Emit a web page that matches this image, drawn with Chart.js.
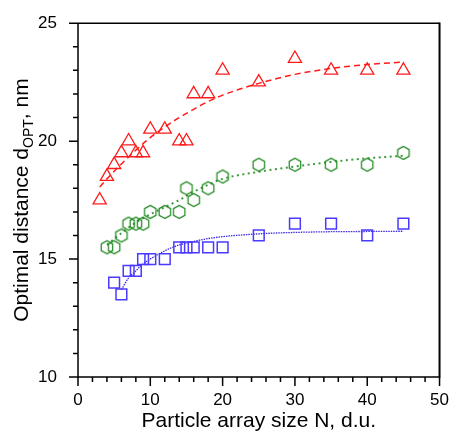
<!DOCTYPE html>
<html><head><meta charset="utf-8">
<script src="https://cdn.jsdelivr.net/npm/chart.js@4.4.0/dist/chart.umd.min.js"></script>
<style>html,body{margin:0;padding:0;background:#fff;overflow:hidden}#wrap{width:454px;height:433px}</style>
</head><body><div id="wrap"><canvas id="c" width="454" height="433"></canvas></div>
<script>
// ---- data ----
const triN = [3,4,5,6,7,8,9,10,12,14,15,16,18,20,25,30,35,40,45];
const triD = [17.5,18.5,19,19.5,20,19.5,19.5,20.5,20.5,20,20,22,22,23,22.5,23.5,23,23,23];
const hexN = [4,5,6,7,8,9,10,12,14,15,16,18,20,25,30,35,40,45];
const hexD = [15.5,15.5,16,16.5,16.5,16.5,17,17,17,18,17.5,18,18.5,19,19,19,19,19.5];
const sqN  = [5,6,7,8,9,10,12,14,15,16,18,20,25,30,35,40,45];
const sqD  = [14,13.5,14.5,14.5,15,15,15,15.5,15.5,15.5,15.5,15.5,16,16.5,16.5,16,16.5];
// fitted curves
const fitRedN = [3,4,5,6,7,8,10,12,14,16,18,20,25,30,35,40,45];
const fitRedD = [18.05,18.4,18.72,19.03,19.33,19.62,20.15,20.6,21.0,21.35,21.68,21.95,22.45,22.83,23.08,23.25,23.35];
const fitGreenN = [4,6,8,10,12,14,16,18,20,25,30,35,40,45];
const fitGreenD = [15.6,16.1,16.55,16.9,17.2,17.5,17.85,18.15,18.4,18.7,18.92,19.12,19.27,19.38];
const fitBlueN = [6,7,8,9,10,12,14,16,18,20,25,30,35,40,45];
const fitBlueD = [13.7,14.2,14.5,14.8,15.0,15.35,15.6,15.75,15.87,15.95,16.07,16.13,16.16,16.17,16.18];
const xTickLabels = ['0','10','20','30','40','50'];
const yTickLabels = ['10','15','20','25'];
const xTitle = 'Particle array size N, d.u.';
const yTitleMain = 'Optimal distance d', yTitleSub = 'OPT', yTitleTail = ', nm';

const RED = '#ff1a1a', GREEN = '#1a861a', GREEN_L = '#3c9c3c', BLUE = '#4a3aff', BLUE_L = '#3a2ae0';
const FONT = "'Liberation Sans', Arial, sans-serif";

function pts(xs, ys){ return xs.map((v,i)=>({x:v,y:ys[i]})); }
function hexImg(color){
  const s=16, c=document.createElement('canvas'); c.width=s; c.height=s;
  const g=c.getContext('2d'); g.strokeStyle=color; g.lineWidth=1.2; g.beginPath();
  const r=6.6;
  for(let k=0;k<6;k++){ const a=Math.PI/2+k*Math.PI/3; const px=s/2+r*Math.cos(a), py=s/2+r*Math.sin(a); k?g.lineTo(px,py):g.moveTo(px,py); }
  g.closePath(); g.stroke(); return c;
}

const framePlugin = {
  id:'frame',
  afterDraw(chart){
    const {ctx, chartArea:a, scales:{x,y}} = chart;
    ctx.save();
    ctx.strokeStyle='#000';
    ctx.lineWidth=1.5;
    ctx.beginPath();
    ctx.moveTo(a.left,a.top); ctx.lineTo(a.right,a.top);
    ctx.moveTo(a.left,a.top); ctx.lineTo(a.left,a.bottom); ctx.lineTo(a.right,a.bottom);
    ctx.stroke();
    ctx.lineWidth=2;
    ctx.beginPath(); ctx.moveTo(a.right,a.top-0.75); ctx.lineTo(a.right,a.bottom+0.75); ctx.stroke();
    ctx.lineWidth=1.5;
    ctx.beginPath();
    y.ticks.forEach(t=>{ const p=y.getPixelForValue(t.value); const L = (t.value%5===0)?9:5; ctx.moveTo(a.left-L,p); ctx.lineTo(a.left,p); });
    x.ticks.forEach(t=>{ const p=x.getPixelForValue(t.value); const L = (t.value%10===0)?9:5; ctx.moveTo(p,a.bottom); ctx.lineTo(p,a.bottom+L); });
    ctx.stroke();
    // titles
    ctx.fillStyle='#000';
    ctx.font = '21px '+FONT;
    ctx.textAlign='center'; ctx.textBaseline='alphabetic';
    ctx.fillText(xTitle, (a.left+a.right)/2, 427);
    ctx.translate(28,(a.top+a.bottom)/2);
    ctx.rotate(-Math.PI/2);
    ctx.textAlign='left';
    const w1=ctx.measureText(yTitleMain).width, w3=ctx.measureText(yTitleTail).width;
    ctx.font='14px '+FONT; const w2=ctx.measureText(yTitleSub).width;
    const start=-(w1+w2+w3)/2;
    ctx.font='21px '+FONT; ctx.fillText(yTitleMain,start,0);
    ctx.font='14px '+FONT; ctx.fillText(yTitleSub,start+w1,5);
    ctx.font='21px '+FONT; ctx.fillText(yTitleTail,start+w1+w2,0);
    ctx.restore();
  }
};

new Chart(document.getElementById('c'), {
  type:'scatter',
  data:{ datasets:[
    {data:pts(triN,triD), pointStyle:'triangle', pointRadius:7.6, borderColor:RED, backgroundColor:'rgba(0,0,0,0)', borderWidth:1.3, showLine:false, order:0},
    {data:pts(hexN,hexD), pointStyle:hexImg(GREEN), pointRadius:7, showLine:false, order:0},
    {data:pts(sqN,sqD), pointStyle:'rect', pointRadius:7.6, borderColor:BLUE, backgroundColor:'rgba(0,0,0,0)', borderWidth:1.5, showLine:false, order:0},
    {data:pts(fitRedN,fitRedD), showLine:true, pointRadius:0, borderColor:RED, borderWidth:1.5, borderDash:[6,4], cubicInterpolationMode:'monotone', fill:false, order:1},
    {data:pts(fitGreenN,fitGreenD), showLine:true, pointRadius:0, borderColor:GREEN_L, borderWidth:2, borderDash:[2,3.5], cubicInterpolationMode:'monotone', fill:false, order:1},
    {data:pts(fitBlueN,fitBlueD), showLine:true, pointRadius:0, borderColor:BLUE_L, borderWidth:1.3, borderDash:[1.5,1], cubicInterpolationMode:'monotone', fill:false, order:1}
  ]},
  options:{
    responsive:false, animation:false, events:[],
    layout:{padding:{top:14,right:13,left:0,bottom:0}},
    plugins:{legend:{display:false}, tooltip:{enabled:false}},
    scales:{
      x:{type:'linear', min:0, max:50,
        afterFit(s){ s.height=56; },
        grid:{display:false}, border:{display:false},
        ticks:{stepSize:2, autoSkip:false, maxRotation:0, padding:5, color:'#000', font:{family:FONT,size:17},
          callback:(v)=> (v%10===0 ? xTickLabels[v/10] : '')}
      },
      y:{type:'linear', min:10, max:25,
        afterFit(s){ s.width=78; },
        grid:{display:false}, border:{display:false},
        ticks:{stepSize:1, autoSkip:false, padding:13, color:'#000', font:{family:FONT,size:17},
          callback:(v)=> (v%5===0 ? yTickLabels[(v-10)/5] : '')}
      }
    }
  },
  plugins:[framePlugin]
});
</script></body></html>
